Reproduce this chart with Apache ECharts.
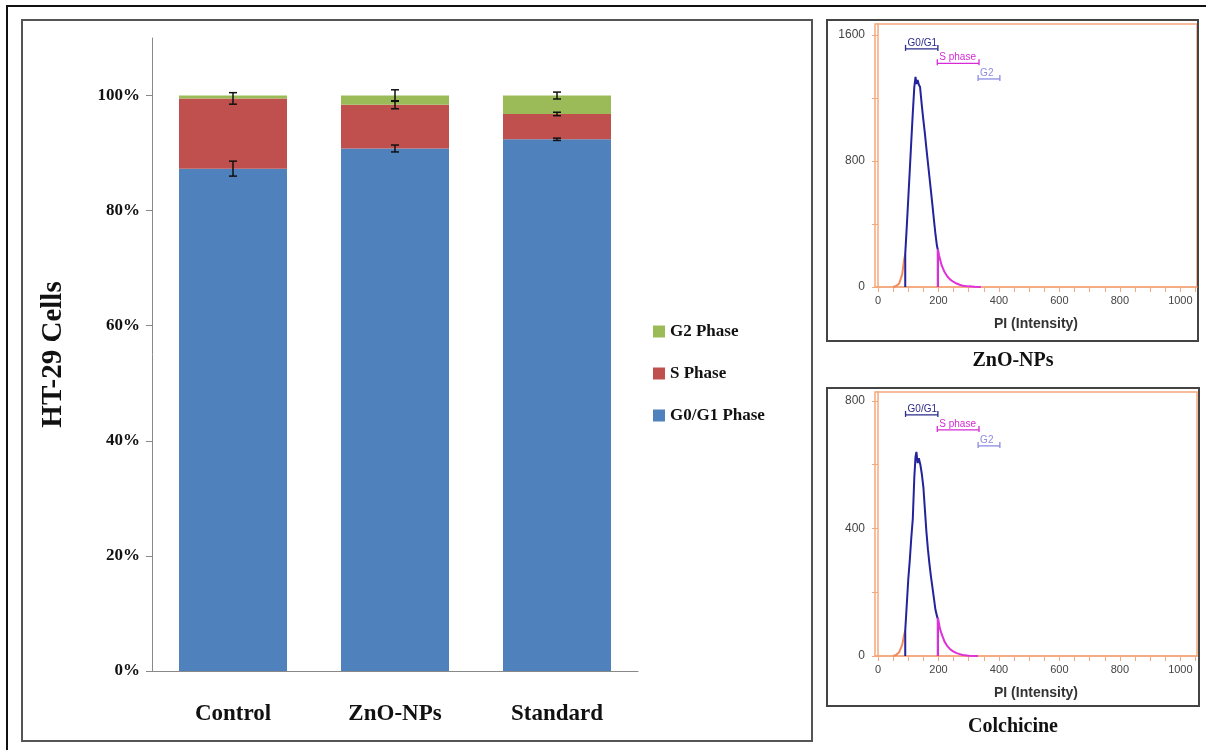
<!DOCTYPE html>
<html>
<head>
<meta charset="utf-8">
<script src="https://cdn.jsdelivr.net/npm/echarts@6/dist/echarts.min.js"></script>
<style>
  html, body { margin: 0; padding: 0; background: #fff; }
  #chart { width: 1206px; height: 750px; }
</style>
</head>
<body>
<div id="chart"></div>
<script>
// bar chart data (percent of cells)
var categories = ['Control', 'ZnO-NPs', 'Standard'];
var g0g1 = [87.3, 90.8, 92.4];
var sPhase = [12.2, 7.6, 4.4];
var g2 = [0.5, 1.6, 3.2];
var g0g1Err = [1.3, 0.6, 0.2];
var sErr = [1.0, 0.7, 0.3];
var g2Err = [0, 1.0, 0.6];
var yTicks = [0, 20, 40, 60, 80, 100];

// flow cytometry histograms, [PI intensity, count]
var znoOutside = [[50, 0], [60, 6], [70, 22], [80, 80], [86, 170], [90, 210]];
var znoG0G1 = [[90, 0], [90, 210], [95, 380], [100, 560], [105, 740], [110, 925], [115, 1105],
  [120, 1270], [124, 1335], [127, 1290], [131, 1315], [135, 1285], [139, 1270], [145, 1150],
  [150, 1060], [155, 975], [160, 880], [165, 790], [170, 700], [175, 610], [180, 520],
  [185, 425], [190, 335], [195, 260], [198, 235], [198, 0]];
var znoS = [[198, 0], [198, 240], [202, 200], [206, 170], [210, 140], [220, 95], [230, 65],
  [240, 45], [250, 32], [260, 22], [270, 14], [280, 8], [300, 4], [320, 1], [340, 0]];

var colOutside = [[50, 0], [60, 3], [70, 12], [80, 35], [86, 65], [90, 80]];
var colG0G1 = [[90, 0], [90, 80], [95, 160], [100, 240], [105, 300], [110, 370], [115, 430],
  [120, 560], [124, 625], [127, 640], [131, 605], [135, 620], [140, 600], [145, 570],
  [150, 530], [155, 460], [160, 390], [165, 335], [170, 290], [175, 250], [180, 215],
  [185, 180], [190, 145], [195, 125], [198, 115], [198, 0]];
var colS = [[198, 0], [198, 120], [205, 85], [210, 70], [220, 45], [230, 30], [240, 20],
  [250, 14], [260, 9], [270, 6], [280, 3], [300, 1], [330, 0]];

// gates: [from, to, level]
var gateNames = ['G0/G1', 'S phase', 'G2'];
var gateColors = ['#2b2b8c', '#d52ad5', '#8c8ce0'];
var znoGates = [[91, 198, 1512], [196, 334, 1420], [331, 403, 1321]];
var colGates = [[91, 198, 756], [196, 334, 709], [331, 403, 659]];

var histXLabels = [0, 200, 400, 600, 800, 1000];
var histXTicks = [0, 50, 100, 150, 200, 250, 300, 350, 400, 450, 500, 550, 600, 650, 700, 750, 800, 850, 900, 950, 1000, 1050];
var znoYLabels = [0, 800, 1600];
var znoYTicks = [0, 400, 800, 1200, 1600];
var colYLabels = [0, 400, 800];
var colYTicks = [0, 200, 400, 600, 800];

var serif = 'Liberation Serif';
var sans = 'Liberation Sans';
var orange = '#f4a77c';

function errorData() {
  var out = [];
  for (var i = 0; i < categories.length; i++) {
    var c1 = g0g1[i], c2 = c1 + sPhase[i], c3 = c2 + g2[i];
    out.push([i, c1, g0g1Err[i]]);
    out.push([i, c2, sErr[i]]);
    out.push([i, c3, g2Err[i]]);
  }
  return out;
}

function renderError(params, api) {
  var err = api.value(2);
  if (!err) return;
  var top = api.coord([api.value(0), api.value(1) + err]);
  var bot = api.coord([api.value(0), api.value(1) - err]);
  var st = { stroke: '#111', lineWidth: 1.5 };
  return {
    type: 'group',
    children: [
      { type: 'line', shape: { x1: top[0], y1: top[1], x2: bot[0], y2: bot[1] }, style: st },
      { type: 'line', shape: { x1: top[0] - 4, y1: top[1], x2: top[0] + 4, y2: top[1] }, style: st },
      { type: 'line', shape: { x1: bot[0] - 4, y1: bot[1], x2: bot[0] + 4, y2: bot[1] }, style: st }
    ]
  };
}

// gate bracket: value(0)=from, value(1)=to, value(2)=level
function renderGate(params, api) {
  var a = api.coord([api.value(0), api.value(2)]);
  var b = api.coord([api.value(1), api.value(2)]);
  var col = gateColors[params.dataIndex];
  var st = { stroke: col, lineWidth: 1.3 };
  return {
    type: 'group',
    children: [
      { type: 'line', shape: { x1: a[0], y1: a[1], x2: b[0], y2: b[1] }, style: st },
      { type: 'line', shape: { x1: a[0], y1: a[1] - 4, x2: a[0], y2: a[1] + 2 }, style: st },
      { type: 'line', shape: { x1: b[0], y1: b[1] - 4, x2: b[0], y2: b[1] + 2 }, style: st },
      { type: 'text', x: a[0] + 2, y: a[1] - 1,
        style: { text: gateNames[params.dataIndex], fill: col, font: '10px ' + sans,
                 textAlign: 'left', textVerticalAlign: 'bottom' } }
    ]
  };
}

function plain(v) { return String(v); }

function histX(grid) {
  return {
    type: 'value', gridIndex: grid, min: -10, max: 1055,
    name: 'PI (Intensity)', nameLocation: 'middle', nameGap: 30,
    nameTextStyle: { fontFamily: sans, fontWeight: 'bold', fontSize: 14, color: '#333' },
    axisLine: { lineStyle: { color: orange, width: 1.5 } },
    axisTick: { show: true, length: 5, lineStyle: { color: orange }, customValues: histXTicks },
    axisLabel: { color: '#444', fontFamily: sans, fontSize: 11, margin: 8, customValues: histXLabels, formatter: plain },
    splitLine: { show: false }
  };
}

function histY(grid, max, labels, ticks) {
  return {
    type: 'value', gridIndex: grid, min: 0, max: max,
    axisLine: { show: true, lineStyle: { color: orange, width: 1.5 } },
    axisTick: { show: true, length: 6, lineStyle: { color: orange }, customValues: ticks },
    axisLabel: { color: '#444', fontFamily: sans, fontSize: 12, margin: 10, customValues: labels, formatter: plain },
    splitLine: { show: false }
  };
}

function histLine(name, data, color, grid) {
  return {
    name: name, type: 'line', xAxisIndex: grid, yAxisIndex: grid, data: data,
    showSymbol: false, lineStyle: { color: color, width: 2 }, itemStyle: { color: color }
  };
}

var chart = echarts.init(document.getElementById('chart'));

var option = {
  animation: false,
  backgroundColor: '#fff',
  graphic: [
    { type: 'rect', shape: { x: 7, y: 6, width: 1215, height: 760 }, style: { fill: 'none', stroke: '#111', lineWidth: 2 } },
    { type: 'rect', shape: { x: 22, y: 20, width: 790, height: 721 }, style: { fill: 'none', stroke: '#555', lineWidth: 2 } },
    { type: 'rect', shape: { x: 827, y: 20, width: 371, height: 321 }, style: { fill: 'none', stroke: '#444', lineWidth: 2 } },
    { type: 'rect', shape: { x: 827, y: 388, width: 372, height: 318 }, style: { fill: 'none', stroke: '#444', lineWidth: 2 } },
    { type: 'text', x: 1013, y: 361, style: { text: 'ZnO-NPs', font: 'bold 20px ' + serif, fill: '#111', textAlign: 'center', textVerticalAlign: 'middle' } },
    { type: 'text', x: 1013, y: 727, style: { text: 'Colchicine', font: 'bold 20px ' + serif, fill: '#111', textAlign: 'center', textVerticalAlign: 'middle' } }
  ],
  legend: {
    orient: 'vertical', left: 648, top: 318, itemWidth: 12, itemHeight: 12, itemGap: 25,
    data: ['G2 Phase', 'S Phase', 'G0/G1 Phase'],
    textStyle: { fontFamily: serif, fontWeight: 'bold', fontSize: 17, color: '#111' },
    icon: 'rect'
  },
  grid: [
    { left: 152, top: 38, width: 486, height: 633 },
    { left: 875, top: 24, width: 322, height: 263, show: true, borderColor: orange, borderWidth: 1.5, backgroundColor: '#fff' },
    { left: 875, top: 392, width: 322, height: 264, show: true, borderColor: orange, borderWidth: 1.5, backgroundColor: '#fff' }
  ],
  xAxis: [
    {
      type: 'category', gridIndex: 0, data: categories,
      axisLine: { lineStyle: { color: '#888' } },
      axisTick: { length: 6, lineStyle: { color: '#888' } },
      axisLabel: { fontFamily: serif, fontWeight: 'bold', fontSize: 23, color: '#111', margin: 32 }
    },
    histX(1),
    histX(2)
  ],
  yAxis: [
    {
      type: 'value', gridIndex: 0, min: 0, max: 110,
      name: 'HT-29 Cells', nameLocation: 'middle', nameRotate: 90, nameGap: 84,
      nameTextStyle: { fontFamily: serif, fontWeight: 'bold', fontSize: 29, color: '#111' },
      axisLine: { show: true, lineStyle: { color: '#888' } },
      axisTick: { show: true, length: 6, lineStyle: { color: '#888' }, customValues: yTicks },
      axisLabel: { fontFamily: serif, fontWeight: 'bold', fontSize: 17, color: '#111', margin: 12,
                   formatter: '{value}%', customValues: yTicks },
      splitLine: { show: false }
    },
    histY(1, 1670, znoYLabels, znoYTicks),
    histY(2, 828, colYLabels, colYTicks)
  ],
  series: [
    { name: 'G0/G1 Phase', type: 'bar', stack: 'cells', data: g0g1, barWidth: 108, itemStyle: { color: '#4f81bd' } },
    { name: 'S Phase', type: 'bar', stack: 'cells', data: sPhase, barWidth: 108, itemStyle: { color: '#c0504d' } },
    { name: 'G2 Phase', type: 'bar', stack: 'cells', data: g2, barWidth: 108, itemStyle: { color: '#9bbb59' } },
    { name: 'err', type: 'custom', xAxisIndex: 0, yAxisIndex: 0, data: errorData(), renderItem: renderError,
      encode: { x: 0, y: 1 }, z: 5 },

    histLine('zno-out', znoOutside, '#f08a5a', 1),
    histLine('zno-g0g1', znoG0G1, '#23239c', 1),
    histLine('zno-s', znoS, '#e030d8', 1),
    { name: 'zno-gates', type: 'custom', xAxisIndex: 1, yAxisIndex: 1, data: znoGates,
      renderItem: renderGate, encode: { x: [0, 1], y: 2 } },

    histLine('col-out', colOutside, '#f08a5a', 2),
    histLine('col-g0g1', colG0G1, '#23239c', 2),
    histLine('col-s', colS, '#e030d8', 2),
    { name: 'col-gates', type: 'custom', xAxisIndex: 2, yAxisIndex: 2, data: colGates,
      renderItem: renderGate, encode: { x: [0, 1], y: 2 } }
  ]
};

chart.setOption(option);
</script>
</body>
</html>
